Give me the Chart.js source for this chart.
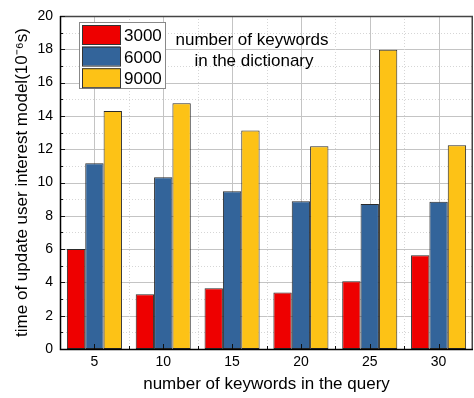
<!DOCTYPE html>
<html>
<head>
<meta charset="utf-8">
<script src="https://cdn.jsdelivr.net/npm/chart.js@4/dist/chart.umd.min.js"></script>
<style>
  html, body { margin: 0; padding: 0; background: #fff; }
  canvas { display: block; }
</style>
</head>
<body>
<canvas id="c" width="474" height="398"></canvas>
<script>
// Query sizes (number of keywords in the query)
const categories = ['5', '10', '15', '20', '25', '30'];
// Update time (10^-6 s) for each dictionary size
const dict3000 = [6.0, 3.29, 3.65, 3.40, 4.07, 5.63];
const dict6000 = [11.15, 10.31, 9.48, 8.87, 8.71, 8.85];
const dict9000 = [14.29, 14.76, 13.13, 12.17, 17.98, 12.23];
const seriesLabels = ['3000', '6000', '9000'];
const yTicks = [0, 2, 4, 6, 8, 10, 12, 14, 16, 18, 20];

const FONT = '"Liberation Sans", Arial, Helvetica, sans-serif';
const colors = ['#ee0000', '#33649a', '#fdc216'];

// Grid, tick marks and frame drawn in the style of the plot
const framePlugin = {
  id: 'frame',
  beforeDatasetsDraw(chart) {
    const { ctx, chartArea: a, scales: { x, y } } = chart;
    ctx.save();
    ctx.lineWidth = 1;
    // horizontal grid
    for (let v = 1; v < 20; v++) {
      const py = Math.round(y.getPixelForValue(v)) + 0.5;
      if (v % 2 === 0) { ctx.strokeStyle = '#c4c4c4'; ctx.setLineDash([]); }
      else { ctx.strokeStyle = '#d6d6d6'; ctx.setLineDash([1, 2]); }
      ctx.beginPath(); ctx.moveTo(a.left, py); ctx.lineTo(a.right, py); ctx.stroke();
    }
    // vertical grid
    const step = x.getPixelForValue(1) - x.getPixelForValue(0);
    for (let i = 0; i < categories.length; i++) {
      const cx = Math.round(x.getPixelForValue(i)) + 0.5;
      ctx.strokeStyle = '#c4c4c4'; ctx.setLineDash([]);
      ctx.beginPath(); ctx.moveTo(cx, a.top); ctx.lineTo(cx, a.bottom); ctx.stroke();
      if (i < categories.length - 1) {
        const bx = Math.round(x.getPixelForValue(i) + step / 2) + 0.5;
        ctx.strokeStyle = '#d6d6d6'; ctx.setLineDash([1, 2]);
        ctx.beginPath(); ctx.moveTo(bx, a.top); ctx.lineTo(bx, a.bottom); ctx.stroke();
      }
    }
    ctx.restore();
  },
  afterDatasetsDraw(chart) {
    const { ctx, chartArea: a, scales: { x, y } } = chart;
    ctx.save();
    ctx.setLineDash([]);
    // top and right frame
    ctx.strokeStyle = '#444';
    ctx.lineWidth = 1.5;
    ctx.beginPath();
    ctx.moveTo(a.left, a.top + 0.5); ctx.lineTo(a.right - 0.75, a.top + 0.5); ctx.lineTo(a.right - 0.75, a.bottom);
    ctx.stroke();
    // tick marks
    ctx.strokeStyle = '#111';
    ctx.lineWidth = 1;
    for (let v = 0; v <= 20; v++) {
      const py = Math.round(y.getPixelForValue(v)) + 0.5;
      const len = v % 2 === 0 ? 5 : 3;
      ctx.beginPath(); ctx.moveTo(a.left, py); ctx.lineTo(a.left + len, py); ctx.stroke();
    }
    const step = x.getPixelForValue(1) - x.getPixelForValue(0);
    for (let i = 0; i < categories.length; i++) {
      const cx = Math.round(x.getPixelForValue(i)) + 0.5;
      ctx.beginPath(); ctx.moveTo(cx, a.bottom); ctx.lineTo(cx, a.bottom - 5); ctx.stroke();
      if (i < categories.length - 1) {
        const bx = Math.round(x.getPixelForValue(i) + step / 2) + 0.5;
        ctx.beginPath(); ctx.moveTo(bx, a.bottom); ctx.lineTo(bx, a.bottom - 3); ctx.stroke();
      }
    }
    // left and bottom axis lines
    ctx.strokeStyle = '#000';
    ctx.lineWidth = 1.5;
    ctx.beginPath();
    ctx.moveTo(a.left + 0.5, a.top); ctx.lineTo(a.left + 0.5, a.bottom + 0.5); ctx.lineTo(a.right, a.bottom + 0.5);
    ctx.stroke();

    // legend box
    const lx = 79.5, ly = 22.5, lw = 86, lh = 66;
    ctx.fillStyle = '#fff';
    ctx.fillRect(lx, ly, lw, lh);
    ctx.strokeStyle = '#888';
    ctx.lineWidth = 1;
    ctx.strokeRect(lx, ly, lw, lh);
    ctx.font = '17px ' + FONT;
    ctx.textBaseline = 'alphabetic';
    ctx.textAlign = 'left';
    chart.data.datasets.forEach((ds, i) => {
      const sy = 25 + i * 21.6;
      ctx.fillStyle = ds.backgroundColor;
      ctx.fillRect(82, sy, 38, 19);
      ctx.strokeStyle = '#333';
      ctx.strokeRect(82.5, sy + 0.5, 38, 19);
      ctx.fillStyle = '#000';
      ctx.fillText(ds.label, 124, sy + 16);
    });
    // legend caption
    ctx.textAlign = 'center';
    ctx.fillText('number of keywords', 252, 45);
    ctx.fillText('in the dictionary', 254, 66);
    ctx.restore();
  }
};

new Chart(document.getElementById('c'), {
  type: 'bar',
  data: {
    labels: categories,
    datasets: [dict3000, dict6000, dict9000].map((d, i) => ({
      label: seriesLabels[i],
      data: d,
      backgroundColor: colors[i],
      borderColor: '#2a2a2a',
      borderWidth: 1,
      borderSkipped: false,
      categoryPercentage: 0.8,
      barPercentage: 1.0
    }))
  },
  options: {
    responsive: false,
    animation: false,
    devicePixelRatio: 1,
    layout: { padding: { top: 16, right: 1, left: 0, bottom: 0 } },
    plugins: { legend: { display: false }, tooltip: { enabled: false } },
    scales: {
      x: {
        offset: true,
        grid: { display: false, drawTicks: false },
        border: { display: false },
        ticks: { color: '#000', font: { family: FONT, size: 14 }, padding: 5, maxRotation: 0 },
        title: { display: true, text: 'number of keywords in the query', color: '#000',
                 font: { family: FONT, size: 17 }, padding: { top: 2, bottom: 3 } },
        afterFit(s) { s.height = 49; }
      },
      y: {
        min: 0, max: 20,
        grid: { display: false, drawTicks: false },
        border: { display: false },
        afterBuildTicks(s) { s.ticks = yTicks.map(v => ({ value: v })); },
        ticks: { color: '#000', font: { family: FONT, size: 14 }, padding: 7 },
        title: { display: true, text: 'time of update user interest model(10\u207B\u2076s)', color: '#000',
                 font: { family: FONT, size: 17 }, padding: { top: 12, bottom: 2 } },
        afterFit(s) { s.width = 60; }
      }
    }
  },
  plugins: [framePlugin]
});
</script>
</body>
</html>
